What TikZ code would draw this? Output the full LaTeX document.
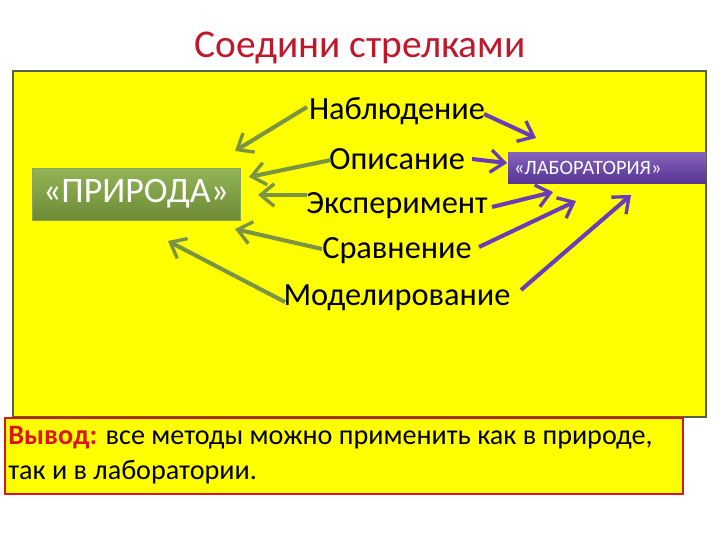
\documentclass[tikz,border=0pt]{standalone}
\usepackage{fontspec}
\setmainfont{Carlito}
\usetikzlibrary{arrows.meta,positioning,calc}
\definecolor{SlideYellow}{HTML}{FFFF00}
\definecolor{FrameGray}{HTML}{56604A}
\definecolor{TitleRed}{HTML}{C0182B}
\definecolor{GreenTop}{HTML}{92B556}
\definecolor{GreenBottom}{HTML}{6D8A37}
\definecolor{PurpleTop}{HTML}{8462BD}
\definecolor{PurpleBottom}{HTML}{553592}
\definecolor{ArrowGreen}{HTML}{7A9443}
\definecolor{ArrowPurple}{HTML}{6A3DB8}
\definecolor{ConclRed}{HTML}{D9161C}
\tikzset{
  word/.style={inner sep=0pt, font=\fontsize{23}{27}\selectfont},
  greenarrow/.style={-{Straight Barb[length=3.4mm, width=5.6mm, line width=2.4pt]}, line width=2.9pt, draw=ArrowGreen},
  purplearrow/.style={-{Straight Barb[length=3.4mm, width=5.6mm, line width=2.4pt]}, line width=2.9pt, draw=ArrowPurple}
}

\begin{document}
\begin{tikzpicture}[x=0.025cm, y=-0.025cm]
\useasboundingbox[fill=white] (0,0) rectangle (720,540);

\node[text=TitleRed, font=\fontsize{28}{32}\selectfont] (title) at (360,48) {Соедини стрелками};

\draw[fill=SlideYellow, draw=FrameGray, line width=1.3pt] (13,71) rectangle (706,417);

\node[draw=GreenBottom!80, top color=GreenTop, bottom color=GreenBottom, text=white, minimum width=208*0.025cm, minimum height=52*0.025cm, inner sep=0pt, font=\fontsize{25.5}{28}\selectfont] (nature) at (136,194) {«ПРИРОДА»};
\node[top color=PurpleTop, bottom color=PurpleBottom, text=white, text width=186*0.025cm, align=left, inner xsep=6*0.025cm, inner ysep=0pt, minimum height=31*0.025cm, font=\fontsize{14.5}{16}\selectfont] (lab) at (607,168) {«ЛАБОРАТОРИЯ»};

\node[word] (nab) at (397,111) {Наблюдение};
\node[word] (opi) at (397,159) {Описание};
\node[word] (eks) at (397,206) {Эксперимент};
\node[word] (sra) at (397,251) {Сравнение};
\node[word] (mod) at (397,298) {Моделирование};

% arrow ends
\coordinate (g1s) at (307,107); \coordinate (g1e) at (235,151);
\coordinate (g2s) at (331,160); \coordinate (g2e) at (249,177);
\coordinate (g3s) at (307,195); \coordinate (g3e) at (258,195);
\coordinate (g4s) at (322,249); \coordinate (g4e) at (235,229);
\coordinate (g5s) at (285,302); \coordinate (g5e) at (168,241);
\coordinate (p1s) at (484,114); \coordinate (p1e) at (536,138);
\coordinate (p2s) at (472,159); \coordinate (p2e) at (507,163);
\coordinate (p3s) at (492,207); \coordinate (p3e) at (553,192);
\coordinate (p4s) at (479,247); \coordinate (p4e) at (576,201);
\coordinate (p5s) at (521,290); \coordinate (p5e) at (631,195);

\draw[greenarrow] (g1s) -- (g1e);
\draw[greenarrow] (g2s) -- (g2e);
\draw[greenarrow] (g3s) -- (g3e);
\draw[greenarrow] (g4s) -- (g4e);
\draw[greenarrow] (g5s) -- (g5e);
\draw[purplearrow] (p1s) -- (p1e);
\draw[purplearrow] (p2s) -- (p2e);
\draw[purplearrow] (p3s) -- (p3e);
\draw[purplearrow] (p4s) -- (p4e);
\draw[purplearrow] (p5s) -- (p5e);

\draw[fill=SlideYellow, draw=ConclRed, line width=1.6pt] (5,418) rectangle (683,494);
\node[anchor=north west, align=left, inner sep=0pt, font=\fontsize{20}{25}\selectfont] (concl) at (8,426)
  {\textcolor{ConclRed}{\textbf{Вывод:}} все методы можно применить как в природе,\\так и в лаборатории.};
\end{tikzpicture}
\end{document}
